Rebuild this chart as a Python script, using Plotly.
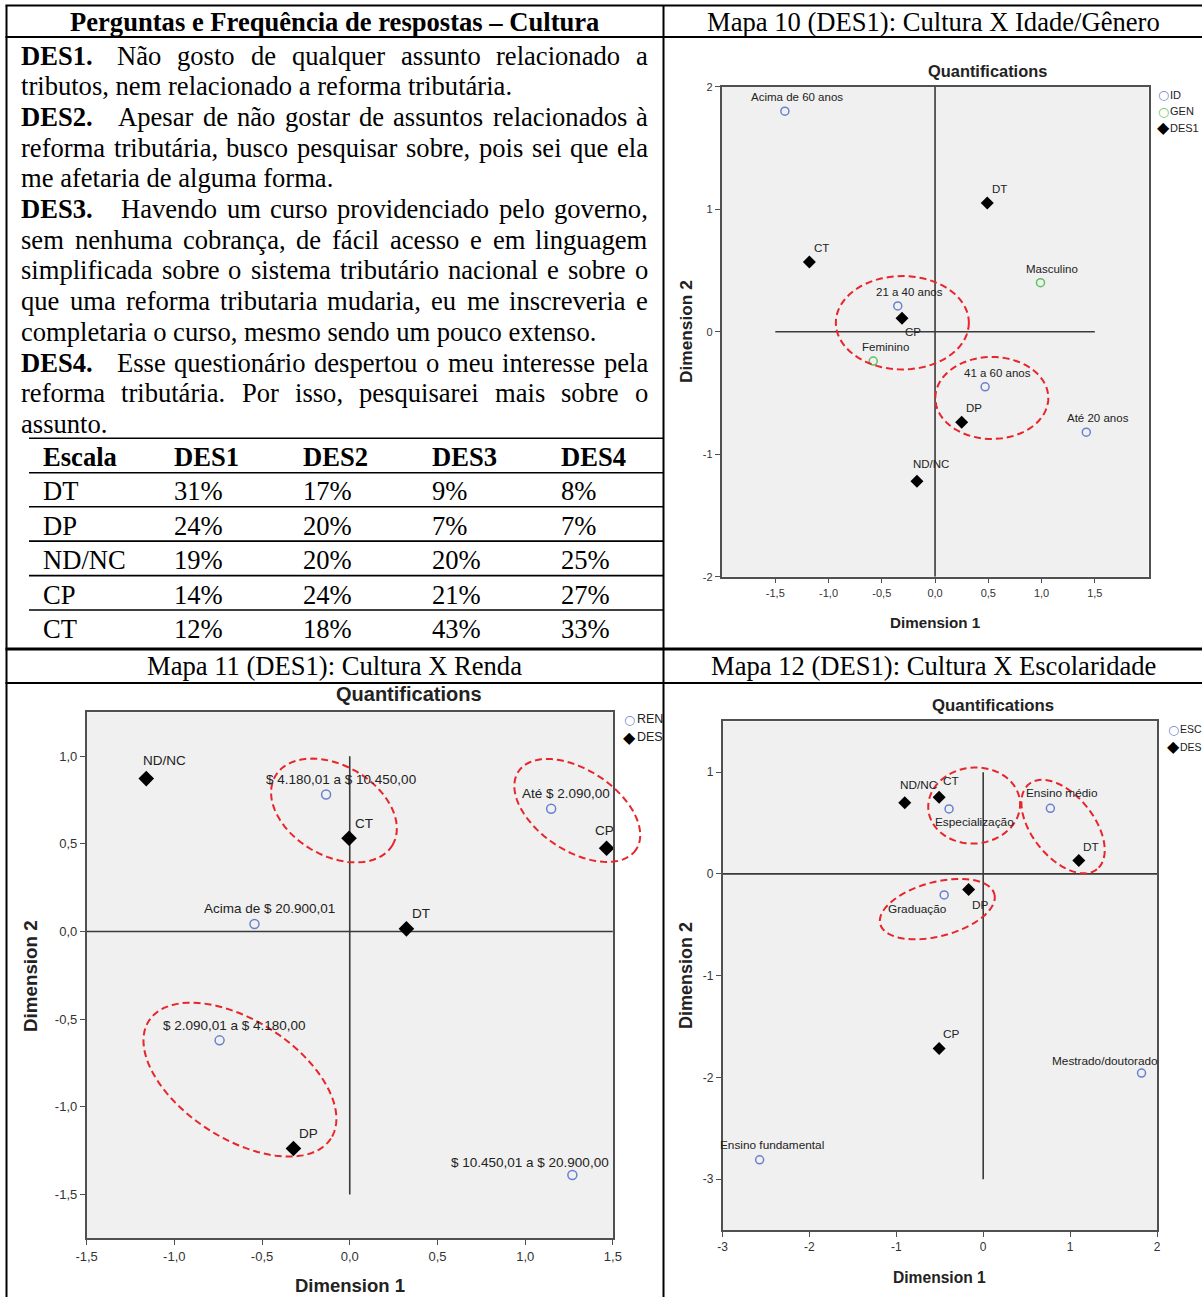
import glob
import math
import struct
import plotly.graph_objects as go

W, H = 1202, 1297

# ============================ DATA ============================
TABLE_TITLE = "Perguntas e Frequência de respostas – Cultura"
MAP10_TITLE = "Mapa 10 (DES1): Cultura X Idade/Gênero"
MAP11_TITLE = "Mapa 11 (DES1): Cultura X Renda"
MAP12_TITLE = "Mapa 12 (DES1): Cultura X Escolaridade"

QUESTION_LINES = [
    ("DES1.", "Não gosto de qualquer assunto relacionado a", True),
    ("", "tributos, nem relacionado a reforma tributária.", False),
    ("DES2.", "Apesar de não gostar de assuntos relacionados à", True),
    ("", "reforma tributária, busco pesquisar sobre, pois sei que ela", True),
    ("", "me afetaria de alguma forma.", False),
    ("DES3.", "Havendo um curso providenciado pelo governo,", True),
    ("", "sem nenhuma cobrança, de fácil acesso e em linguagem", True),
    ("", "simplificada sobre o sistema tributário nacional e sobre o", True),
    ("", "que uma reforma tributaria mudaria, eu me inscreveria e", True),
    ("", "completaria o curso, mesmo sendo um pouco extenso.", False),
    ("DES4.", "Esse questionário despertou o meu interesse pela", True),
    ("", "reforma tributária. Por isso, pesquisarei mais sobre o", True),
    ("", "assunto.", False),
]

TABLE_HEADER = ["Escala", "DES1", "DES2", "DES3", "DES4"]
SCALE_LABELS = ["DT", "DP", "ND/NC", "CP", "CT"]
DES1_PCT = [31, 24, 19, 14, 12]
DES2_PCT = [17, 20, 20, 24, 18]
DES3_PCT = [9, 7, 20, 21, 43]
DES4_PCT = [8, 7, 25, 27, 33]

# Mapa 10 : Idade / Gênero
M10_ID_LABELS = ["Acima de 60 anos", "21 a 40 anos", "41 a 60 anos", "Até 20 anos"]
M10_ID_X = [-1.41, -0.35, 0.47, 1.42]
M10_ID_Y = [1.80, 0.21, -0.45, -0.82]
M10_GEN_LABELS = ["Masculino", "Feminino"]
M10_GEN_X = [0.99, -0.58]
M10_GEN_Y = [0.40, -0.24]
M10_DES_LABELS = ["DT", "CT", "CP", "DP", "ND/NC"]
M10_DES_X = [0.49, -1.18, -0.31, 0.25, -0.17]
M10_DES_Y = [1.05, 0.57, 0.11, -0.74, -1.22]
M10_XTICKS = [-1.5, -1.0, -0.5, 0.0, 0.5, 1.0, 1.5]
M10_XTICKTEXT = ["-1,5", "-1,0", "-0,5", "0,0", "0,5", "1,0", "1,5"]
M10_YTICKS = [-2, -1, 0, 1, 2]
M10_YTICKTEXT = ["-2", "-1", "0", "1", "2"]
M10_HLINE_X = [-1.5, 1.5]
M10_VLINE_Y = [-2.0, 2.0]

# Mapa 11 : Renda
M11_REN_LABELS = ["$ 4.180,01 a $ 10.450,00", "Até $ 2.090,00", "Acima de $ 20.900,01",
                  "$ 2.090,01 a $ 4.180,00", "$ 10.450,01 a $ 20.900,00"]
M11_REN_X = [-0.135, 1.148, -0.543, -0.742, 1.269]
M11_REN_Y = [0.781, 0.700, 0.043, -0.621, -1.389]
M11_DES_LABELS = ["ND/NC", "CT", "CP", "DT", "DP"]
M11_DES_X = [-1.160, -0.004, 1.464, 0.323, -0.321]
M11_DES_Y = [0.872, 0.532, 0.475, 0.015, -1.238]
M11_XTICKS = [-1.5, -1.0, -0.5, 0.0, 0.5, 1.0, 1.5]
M11_XTICKTEXT = ["-1,5", "-1,0", "-0,5", "0,0", "0,5", "1,0", "1,5"]
M11_YTICKS = [-1.5, -1.0, -0.5, 0.0, 0.5, 1.0]
M11_YTICKTEXT = ["-1,5", "-1,0", "-0,5", "0,0", "0,5", "1,0"]
M11_HLINE_X = [-1.5, 1.5]
M11_VLINE_Y = [-1.5, 1.0]

# Mapa 12 : Escolaridade
M12_ESC_LABELS = ["Especialização", "Ensino médio", "Graduação", "Mestrado/doutorado", "Ensino fundamental"]
M12_ESC_X = [-0.393, 0.773, -0.449, 1.822, -2.573]
M12_ESC_Y = [0.639, 0.645, -0.207, -1.957, -2.810]
M12_DES_LABELS = ["ND/NC", "CT", "DT", "DP", "CP"]
M12_DES_X = [-0.903, -0.507, 1.100, -0.168, -0.507]
M12_DES_Y = [0.700, 0.753, 0.131, -0.154, -1.715]
M12_XTICKS = [-3, -2, -1, 0, 1, 2]
M12_XTICKTEXT = ["-3", "-2", "-1", "0", "1", "2"]
M12_YTICKS = [-3, -2, -1, 0, 1]
M12_YTICKTEXT = ["-3", "-2", "-1", "0", "1"]
M12_HLINE_X = [-3.0, 2.0]
M12_VLINE_Y = [-3.0, 1.0]

# =========================== STYLE / LAYOUT ===========================
SERIF = "Liberation Serif, Times New Roman, serif"
SANS = "Liberation Sans, Arial, sans-serif"
GLYPH = "DejaVu Sans, sans-serif"
BLUE = "#6a80cf"
GREEN = "#5cc45c"
RED = "#e8252b"
BG = "#f0f0f0"

# where the body text starts after a bold "DESn." lead (px)
LEAD_BODY_START = {"DES1.": 117, "DES2.": 118, "DES3.": 121, "DES4.": 117}

# highlight ellipses: (center x, center y in data units, semi-axes a, b in px, angle deg)
M10_ELLIPSES = [(-0.307, 0.073, 66.5, 46.7, 0.0), (0.533, -0.541, 56.5, 41.0, 0.0)]
M11_ELLIPSES = [(-0.090, 0.690, 68.0, 45.0, 30.5), (1.297, 0.690, 70.6, 40.4, 33.5),
                (-0.626, -0.845, 108.4, 59.0, 32.9)]
M12_ELLIPSES = [(-0.104, 0.672, 46.0, 38.0, -5.0), (0.919, 0.465, 54.5, 30.9, 51.5),
                (-0.528, -0.346, 59.0, 27.1, -14.7)]

# label offsets (px, screen coordinates; +y = down)
M10_SHIFT_DEFAULT = (12, -14)
M10_SHIFT = {"CP": (11, 14), "ND/NC": (14, -17)}
M11_SHIFT_DEFAULT = (15, -15)
M11_SHIFT = {"ND/NC": (18, -18), "CP": (-2, -18), "$ 10.450,01 a $ 20.900,00": (-42, -13)}
M12_SHIFT_DEFAULT = (12, -15)
M12_SHIFT = {"Especialização": (25, 13), "Graduação": (-27, 14), "Mestrado/doutorado": (-37, -12),
             "ND/NC": (14, -18), "CT": (12, -16), "DP": (12, 15), "DT": (12, -14), "CP": (12, -14)}

SPECS = {
    "m10": dict(xdom=(721.5, 1148.6), xr=(-2.005, 2.005), ydom=(86.7, 576.7), yr=(-2.0, 2.0),
                xa="x", ya="y", tick=11, lab=11.5),
    "m11": dict(xdom=(86.6, 612.9), xr=(-1.5, 1.5), ydom=(712.3, 1238.3), yr=(-1.75, 1.25),
                xa="x2", ya="y2", tick=13, lab=13.5),
    "m12": dict(xdom=(722.5, 1157.0), xr=(-3.0, 2.0), ydom=(721.3, 1230.0), yr=(-3.5, 1.5),
                xa="x3", ya="y3", tick=12, lab=11.8),
}


# ------------------------- font metrics helpers -------------------------
def find_font(fname):
    for pat in ("/usr/share/fonts/**/" + fname, "/usr/local/share/fonts/**/" + fname,
                "/usr/share/fonts/" + fname):
        hits = glob.glob(pat, recursive=True)
        if hits:
            return hits[0]
    return None


def load_widths(path):
    with open(path, "rb") as f:
        data = f.read()
    ntab = struct.unpack(">H", data[4:6])[0]
    tabs = {}
    for i in range(ntab):
        tag, _, off, ln = struct.unpack(">4sIII", data[12 + 16 * i:28 + 16 * i])
        tabs[tag.decode("latin1")] = off
    upem = struct.unpack(">H", data[tabs["head"] + 18:tabs["head"] + 20])[0]
    nhm = struct.unpack(">H", data[tabs["hhea"] + 34:tabs["hhea"] + 36])[0]
    ho = tabs["hmtx"]
    adv = [struct.unpack(">H", data[ho + 4 * i:ho + 4 * i + 2])[0] for i in range(nhm)]
    co = tabs["cmap"]
    nsub = struct.unpack(">H", data[co + 2:co + 4])[0]
    sub = None
    for i in range(nsub):
        pid, eid, so = struct.unpack(">HHI", data[co + 4 + 8 * i:co + 12 + 8 * i])
        fmt = struct.unpack(">H", data[co + so:co + so + 2])[0]
        if fmt == 4 and (pid == 3 or pid == 0):
            sub = co + so
            break
    segx2 = struct.unpack(">H", data[sub + 6:sub + 8])[0]
    seg = segx2 // 2
    ends = struct.unpack(">%dH" % seg, data[sub + 14:sub + 14 + segx2])
    starts = struct.unpack(">%dH" % seg, data[sub + 16 + segx2:sub + 16 + 2 * segx2])
    deltas = struct.unpack(">%dh" % seg, data[sub + 16 + 2 * segx2:sub + 16 + 3 * segx2])
    rpos = sub + 16 + 3 * segx2
    roffs = struct.unpack(">%dH" % seg, data[rpos:rpos + segx2])

    def gid(c):
        for i in range(seg):
            if ends[i] >= c:
                if starts[i] > c:
                    return 0
                if roffs[i] == 0:
                    return (c + deltas[i]) & 0xFFFF
                addr = rpos + 2 * i + roffs[i] + 2 * (c - starts[i])
                g = struct.unpack(">H", data[addr:addr + 2])[0]
                return (g + deltas[i]) & 0xFFFF if g else 0
        return 0

    def width(ch):
        g = gid(ord(ch))
        return (adv[g] if g < nhm else adv[-1]) / upem
    return width


def fallback(bold):
    def width(ch):
        if ch == " ":
            return 0.25
        if ch in ".,;:'":
            return 0.25
        if ch.isdigit():
            return 0.5
        if ch.isupper():
            return 0.70 if bold else 0.66
        return 0.47 if bold else 0.44
    return width


WIDTHS = {}
for bold, fname in ((False, "LiberationSerif-Regular.ttf"), (True, "LiberationSerif-Bold.ttf")):
    try:
        p = find_font(fname)
        WIDTHS[bold] = load_widths(p) if p else fallback(bold)
    except Exception:
        WIDTHS[bold] = fallback(bold)


def text_w(s, bold, size):
    return sum(WIDTHS[bold](c) for c in s) * size


def px_x(px):
    return px / W


def px_y(py):
    return 1 - py / H


annotations = []
shapes = []


def add_text(xp, yp, text, size, family=SERIF, xanchor="left", color="black", angle=0):
    annotations.append(dict(x=px_x(xp), y=px_y(yp), xref="paper", yref="paper", text=text,
                            showarrow=False, xanchor=xanchor, yanchor="middle", textangle=angle,
                            borderpad=0, borderwidth=0,
                            font=dict(family=family, size=size, color=color)))


def add_line(x0, y0, x1, y1, width=2, color="black"):
    shapes.append(dict(type="line", xref="paper", yref="paper", x0=px_x(x0), y0=px_y(y0),
                       x1=px_x(x1), y1=px_y(y1), line=dict(color=color, width=width)))


def justify(words, x_start, x_end, yc):
    widths = [text_w(w, b, FS) for w, b in words]
    if len(words) == 1:
        add_text(x_start, yc, words[0][0], FS)
        return
    gap = (x_end - x_start - sum(widths)) / (len(words) - 1)
    x = x_start
    for k, ((w, b), wd) in enumerate(zip(words, widths)):
        t = "<b>" + w + "</b>" if b else w
        if k == len(words) - 1:
            add_text(x_end, yc, t, FS, xanchor="right")
        else:
            add_text(x, yc, t, FS)
        x += wd + gap


# ------------------------- left cell: questions & table -------------------------
FS = 26.6
LEFT, RIGHT = 21, 648
LINE0, STEP = 55.5, 30.7
add_text(335, 22.5, "<b>" + TABLE_TITLE + "</b>", FS, xanchor="center")
add_text(933, 22.5, MAP10_TITLE, FS, xanchor="center")
add_text(335, 666.5, MAP11_TITLE, FS, xanchor="center")
add_text(933, 666.5, MAP12_TITLE, FS, xanchor="center")

for i, (lead, body, just) in enumerate(QUESTION_LINES):
    yc = LINE0 + i * STEP
    words = [(w, False) for w in body.split()]
    x_start = LEFT
    if lead:
        add_text(LEFT, yc, "<b>" + lead + "</b>", FS)
        x_start = LEAD_BODY_START.get(lead, LEFT + text_w(lead + "  ", True, FS))
    if just:
        justify(words, x_start, RIGHT, yc)
    else:
        add_text(x_start, yc, body, FS)

COL_X = [43, 174, 303, 432, 561]
ROW_Y = [456.5, 490.7, 525.5, 560.2, 595, 629.3]
for c, h in enumerate(TABLE_HEADER):
    add_text(COL_X[c], ROW_Y[0], "<b>" + h + "</b>", FS)
cols = [DES1_PCT, DES2_PCT, DES3_PCT, DES4_PCT]
for r, lab in enumerate(SCALE_LABELS):
    add_text(COL_X[0], ROW_Y[r + 1], lab, FS)
    for c, col in enumerate(cols):
        add_text(COL_X[c + 1], ROW_Y[r + 1], "%d%%" % col[r], FS)

for yl in [438.3, 472.7, 506.8, 541.1, 575.6, 610.0]:
    add_line(29, yl, 663, yl, width=1.6)

# cell borders
add_line(6.5, 5.5, 6.5, 1297, width=2)
add_line(663.5, 5.5, 663.5, 1297, width=2)
add_line(5.5, 5.5, 1202, 5.5, width=2)
add_line(5.5, 37, 1202, 37, width=2)
add_line(5.5, 649, 1202, 649, width=3)
add_line(5.5, 683, 1202, 683, width=2)

# ------------------------- charts -------------------------
fig = go.Figure()


def data_to_px(spec, x, y):
    (x0p, x1p), (xa, xb) = spec["xdom"], spec["xr"]
    (y0p, y1p), (ya, yb) = spec["ydom"], spec["yr"]
    return (x0p + (x - xa) / (xb - xa) * (x1p - x0p),
            y1p - (y - ya) / (yb - ya) * (y1p - y0p))


def axis_cfg(spec, horizontal, tickvals, ticktext):
    if horizontal:
        dom = [spec["xdom"][0] / W, spec["xdom"][1] / W]
        rng = list(spec["xr"])
        anchor = spec["ya"]
    else:
        dom = [1 - spec["ydom"][1] / H, 1 - spec["ydom"][0] / H]
        rng = list(spec["yr"])
        anchor = spec["xa"]
    return dict(domain=dom, range=rng, tickmode="array", tickvals=tickvals, ticktext=ticktext,
                showgrid=False, zeroline=False, showline=True, mirror=True, linecolor="#505050",
                linewidth=1.5, ticks="outside", ticklen=5, tickwidth=1, tickcolor="#505050",
                tickfont=dict(family=SANS, size=spec["tick"], color="#333"), anchor=anchor,
                fixedrange=True, automargin=False)


def add_map(spec, groups, hline_x, vline_y, ellipses, shift_default, shifts):
    xa, ya = spec["xa"], spec["ya"]
    # reference lines through the origin
    fig.add_trace(go.Scatter(x=hline_x, y=[0, 0], mode="lines", line=dict(color="#3a3a3a", width=1.6),
                             xaxis=xa, yaxis=ya, hoverinfo="skip", showlegend=False))
    fig.add_trace(go.Scatter(x=[0, 0], y=vline_y, mode="lines", line=dict(color="#3a3a3a", width=1.6),
                             xaxis=xa, yaxis=ya, hoverinfo="skip", showlegend=False))
    for labels, xs, ys, kind, color in groups:
        if kind == "circle":
            marker = dict(symbol="circle-open", size=8 if spec["tick"] < 13 else 9, color=color,
                          line=dict(color=color, width=1.5))
        else:
            marker = dict(symbol="diamond", size=10 if spec["tick"] < 13 else 12, color="black",
                          line=dict(color="black", width=0))
        fig.add_trace(go.Scatter(x=xs, y=ys, mode="markers", marker=marker, xaxis=xa, yaxis=ya,
                                 cliponaxis=False, hoverinfo="skip", showlegend=False))
        for lab, x, y in zip(labels, xs, ys):
            dx, dy = shifts.get(lab, shift_default)
            annotations.append(dict(x=x, y=y, xref=xa, yref=ya, text=lab, showarrow=False,
                                    xanchor="center", yanchor="middle", xshift=dx, yshift=-dy,
                                    font=dict(family=SANS, size=spec["lab"], color="#222")))
    for cx, cy, a, b, ang in ellipses:
        cpx, cpy = data_to_px(spec, cx, cy)
        th = math.radians(ang)
        pts = []
        for k in range(97):
            t = 2 * math.pi * k / 96
            dx = a * math.cos(t) * math.cos(th) - b * math.sin(t) * math.sin(th)
            dy = a * math.cos(t) * math.sin(th) + b * math.sin(t) * math.cos(th)
            pts.append("%.5f,%.5f" % (px_x(cpx + dx), px_y(cpy + dy)))
        shapes.append(dict(type="path", xref="paper", yref="paper", path="M" + " L".join(pts) + " Z",
                           line=dict(color=RED, width=2, dash="7px,4px")))


s10, s11, s12 = SPECS["m10"], SPECS["m11"], SPECS["m12"]
add_map(s10, [(M10_ID_LABELS, M10_ID_X, M10_ID_Y, "circle", BLUE),
              (M10_GEN_LABELS, M10_GEN_X, M10_GEN_Y, "circle", GREEN),
              (M10_DES_LABELS, M10_DES_X, M10_DES_Y, "diamond", "black")],
        M10_HLINE_X, M10_VLINE_Y, M10_ELLIPSES, M10_SHIFT_DEFAULT, M10_SHIFT)
add_map(s11, [(M11_REN_LABELS, M11_REN_X, M11_REN_Y, "circle", BLUE),
              (M11_DES_LABELS, M11_DES_X, M11_DES_Y, "diamond", "black")],
        M11_HLINE_X, M11_VLINE_Y, M11_ELLIPSES, M11_SHIFT_DEFAULT, M11_SHIFT)
add_map(s12, [(M12_ESC_LABELS, M12_ESC_X, M12_ESC_Y, "circle", BLUE),
              (M12_DES_LABELS, M12_DES_X, M12_DES_Y, "diamond", "black")],
        M12_HLINE_X, M12_VLINE_Y, M12_ELLIPSES, M12_SHIFT_DEFAULT, M12_SHIFT)

# chart titles & axis titles
for (xc, yc, size) in [(987.5, 71.5, 16.4), (409.5, 694, 20), (993, 705, 16.8)]:
    add_text(xc, yc, "<b>Quantifications</b>", size, family=SANS, xanchor="center", color="#222")
for (xc, yc, size) in [(935, 622, 15.2), (350, 1285.5, 18.5), (939, 1277, 15.6)]:
    add_text(xc, yc, "<b>Dimension 1</b>", size, family=SANS, xanchor="center", color="#222")
for (xc, yc, size) in [(686, 332, 17.3), (30, 976, 18.8), (686, 976, 18)]:
    add_text(xc, yc, "<b>Dimension 2</b>", size, family=SANS, xanchor="center", color="#222", angle=-90)

# legends (symbol + text)
LEGENDS = [
    (1163, 1170, 11.0, [("○", BLUE, "ID", 95), ("○", GREEN, "GEN", 111.5), ("◆", "black", "DES1", 128)]),
    (629, 636.5, 12.5, [("○", BLUE, "REN", 719), ("◆", "black", "DES", 737.3)]),
    (1173, 1179.5, 10.5, [("○", BLUE, "ESC", 729.3), ("◆", "black", "DES", 746.7)]),
]
for gx, tx, fsz, items in LEGENDS:
    for sym, col, txt, yy in items:
        if sym == "○":
            add_text(gx, yy, "<b>" + sym + "</b>", 12.5, family=GLYPH, xanchor="center", color=col)
        else:
            add_text(gx, yy, sym, 16, family=GLYPH, xanchor="center", color=col)
        add_text(tx, yy, txt, fsz, family=SANS, color="#222")

fig.update_layout(
    template="none",
    width=W, height=H, autosize=False, margin=dict(l=0, r=0, t=0, b=0, pad=0, autoexpand=False),
    paper_bgcolor="white", plot_bgcolor=BG, showlegend=False,
    xaxis=axis_cfg(s10, True, M10_XTICKS, M10_XTICKTEXT),
    yaxis=axis_cfg(s10, False, M10_YTICKS, M10_YTICKTEXT),
    xaxis2=axis_cfg(s11, True, M11_XTICKS, M11_XTICKTEXT),
    yaxis2=axis_cfg(s11, False, M11_YTICKS, M11_YTICKTEXT),
    xaxis3=axis_cfg(s12, True, M12_XTICKS, M12_XTICKTEXT),
    yaxis3=axis_cfg(s12, False, M12_YTICKS, M12_YTICKTEXT),
    annotations=annotations, shapes=shapes,
)

fig.write_html(
    "out.html",
    config={"displayModeBar": False},
    post_script="document.body.style.margin='0';document.body.style.padding='0';"
                "document.documentElement.style.overflow='hidden';",
)
